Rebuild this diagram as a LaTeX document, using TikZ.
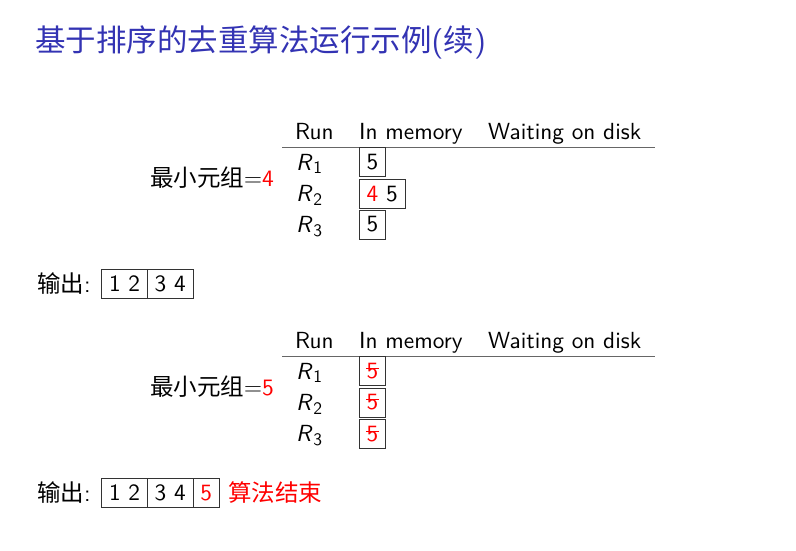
\documentclass[tikz,border=0pt]{standalone}
\usepackage{fontspec}
\setsansfont{lmsans10-regular.otf}[ItalicFont=lmsans10-oblique.otf]
\newfontfamily\cjk{Noto Sans CJK SC}
\usepackage{xcolor}
\definecolor{titleblue}{RGB}{51,51,179}
\usetikzlibrary{positioning}
\newcommand{\runR}[1]{\textit{R}\kern.5pt\raisebox{-3.5pt}{\fontsize{17.5}{20}\selectfont #1}}
\newcommand{\struck}[1]{\textcolor{red}{\rlap{\kern-0.5pt\rule[0.42em]{0.55em}{0.7pt}}#1}}

\begin{document}
\begin{tikzpicture}[x=1pt,y=-1pt,
  title/.style={font=\cjk\fontsize{30.5}{34}\selectfont,text=titleblue,inner sep=0pt},
  lbl/.style={font=\sffamily\fontsize{23.3}{28}\selectfont,inner sep=0pt},
  cjklbl/.style={font=\cjk\fontsize{23.5}{27}\selectfont,inner sep=0pt},
  cell/.style={lbl,draw=black!80,line width=0.8pt,inner xsep=7.3pt,inner ysep=0pt,minimum height=29pt,outer sep=0pt},
  hrule/.style={draw=black!60,line width=1pt}]
\useasboundingbox (0,0) rectangle (796,550);
\node[title,anchor=west] (title) at (35,42) {基于排序的去重算法运行示例{\sffamily(}续{\sffamily)}};

% table heads and run names, both states
\foreach \k/\dy in {a/0,b/209}{
  \node[lbl,anchor=base west] (run-\k) at (295,139+\dy) {Run};
  \node[lbl,anchor=base west] (mem-\k) at (359,139+\dy) {In memory};
  \node[lbl,anchor=base west] (disk-\k) at (488,139+\dy) {Waiting on disk};
  \coordinate (rl-\k) at (282,147+\dy);
  \coordinate (rr-\k) at (655,147+\dy);
  \draw[hrule] (rl-\k) -- (rr-\k);
  \foreach \i/\ry in {1/170.2,2/201.7,3/232.5}
    \node[lbl,anchor=base west] (r\i-\k) at (296,\ry+\dy) {\runR{\i}};
}

% state 1
\node[cjklbl,anchor=east] (min-a) at (274,178) {最小元组$=$\textcolor{red}{\sffamily 4}};
\node[cell,anchor=west] (m1-a) at (359.3,162.2) {5};
\node[cell,anchor=west] (m2-a) at (359.3,193.7) {\textcolor{red}{4} 5};
\node[cell,anchor=west] (m3-a) at (359.3,224.5) {5};
\node[cjklbl,anchor=west] (out-a) at (37,283.5) {输出{\sffamily:}};
\node[cell,anchor=west] (o1-a) at (101.7,283.5) {1 2};
\node[cell,right=0pt of o1-a] (o2-a) {3 4};

% state 2
\node[cjklbl,anchor=east] (min-b) at (274,387) {最小元组$=$\textcolor{red}{\sffamily 5}};
\node[cell,anchor=west] (m1-b) at (359.3,371.2) {\struck{5}};
\node[cell,anchor=west] (m2-b) at (359.3,402.5) {\struck{5}};
\node[cell,anchor=west] (m3-b) at (359.3,433.7) {\struck{5}};
\node[cjklbl,anchor=west] (out-b) at (37,492.8) {输出{\sffamily:}};
\node[cell,anchor=west] (o1-b) at (101.7,492.8) {1 2};
\node[cell,right=0pt of o1-b] (o2-b) {3 4};
\node[cell,right=0pt of o2-b] (o3-b) {\textcolor{red}{5}};
\node[cjklbl,text=red,right=9pt of o3-b] (end-b) {算法结束};
\end{tikzpicture}
\end{document}
